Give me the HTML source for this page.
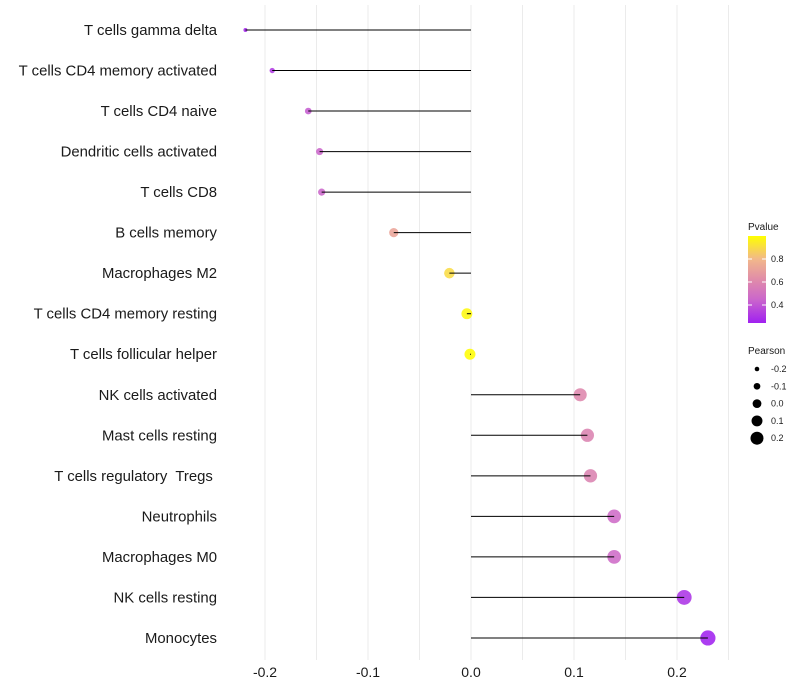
<!DOCTYPE html>
<html><head><meta charset="utf-8"><style>
body{margin:0;background:#fff;font-family:"Liberation Sans",sans-serif}
svg{display:block}
text{white-space:pre}
</style></head><body>
<svg id="chart" width="800" height="700"></svg>
<script>
const categories=["T cells gamma delta","T cells CD4 memory activated","T cells CD4 naive","Dendritic cells activated","T cells CD8","B cells memory","Macrophages M2","T cells CD4 memory resting","T cells follicular helper","NK cells activated","Mast cells resting","T cells regulatory  Tregs ","Neutrophils","Macrophages M0","NK cells resting","Monocytes"];
const pearson=[-0.219,-0.193,-0.158,-0.147,-0.145,-0.075,-0.021,-0.004,-0.001,0.106,0.113,0.116,0.139,0.139,0.207,0.230];
const pvalues=[0.26,0.32,0.42,0.45,0.45,0.72,0.9,0.98,0.995,0.6,0.58,0.58,0.47,0.47,0.3,0.25];
const xTicks=[-0.2,-0.1,0,0.1,0.2];
const xGrid=[-0.2,-0.15,-0.1,-0.05,0,0.05,0.1,0.15,0.2,0.25];
const pTicks=[0.4,0.6,0.8];
const sizeTicks=[-0.2,-0.1,0,0.1,0.2];

const svg=document.getElementById('chart');
const NS='http://www.w3.org/2000/svg';
function mk(t,a,p){const e=document.createElementNS(NS,t);for(const k in a)e.setAttribute(k,a[k]);(p||svg).appendChild(e);return e;}
const x=v=>471+v*1030;
const y=i=>30+i*40.53;
const stops=[[0.243,[160,32,240]],[0.45,[203,103,203]],[0.6,[222,135,173]],[0.8,[242,184,138]],[1.0,[255,255,0]]];
function col(p){p=Math.max(0.243,Math.min(1,p));for(let i=0;i<stops.length-1;i++){const[a,ca]=stops[i],[b,cb]=stops[i+1];if(p<=b){const t=(p-a)/(b-a);return 'rgb('+ca.map((c,j)=>Math.round(c+(cb[j]-c)*t)).join(',')+')';}}return 'rgb(255,255,0)';}
const rad=v=>Math.sqrt(Math.max(1,6.25+(v+0.2)/0.4*48));

const grid=mk('g',{});
xGrid.forEach(g=>{mk('line',{x1:x(g),x2:x(g),y1:5,y2:660,stroke:'#ebebeb','stroke-width':1},grid);});

categories.forEach((c,i)=>{
  const t=mk('text',{x:217,y:y(i)+5,'text-anchor':'end','font-size':14.9,fill:'#1a1a1a'});t.textContent=c;
  
  const pt=mk('circle',{cx:x(pearson[i]),cy:y(i),r:rad(pearson[i]),fill:col(pvalues[i]),'fill-opacity':0.88});
  
  const ln=mk('line',{x1:x(0),x2:x(pearson[i]),y1:y(i),y2:y(i),stroke:'#000','stroke-width':1});
  
});
xTicks.forEach(v=>{const t=mk('text',{x:x(v),y:677,'text-anchor':'middle','font-size':14,fill:'#1a1a1a'});t.textContent=v.toFixed(1);
  });

const lg=mk('g',{});
const tt=mk('text',{x:748,y:230,'font-size':10,fill:'#1a1a1a'},lg);tt.textContent='Pvalue';
const defs=mk('defs',{});const gr=mk('linearGradient',{id:'pg',x1:0,y1:1,x2:0,y2:0},defs);
stops.forEach(s=>mk('stop',{offset:((s[0]-0.243)/(1-0.243)),'stop-color':'rgb('+s[1].join(',')+')'},gr));
mk('rect',{x:748,y:236,width:18,height:87,fill:'url(#pg)'},lg);
const py=p=>259+(0.8-p)/0.2*23;
pTicks.forEach(p=>{mk('line',{x1:748,x2:752,y1:py(p),y2:py(p),stroke:'#fff'},lg);mk('line',{x1:762,x2:766,y1:py(p),y2:py(p),stroke:'#fff'},lg);
  const t=mk('text',{x:771,y:py(p)+3,'font-size':9,fill:'#1a1a1a'},lg);t.textContent=p.toFixed(1);});
const sg=mk('g',{});
const st=mk('text',{x:748,y:354,'font-size':10,fill:'#1a1a1a'},sg);st.textContent='Pearson';
sizeTicks.forEach((v,i)=>{const cy=369+i*17.3;mk('circle',{cx:757,cy:cy,r:2.3+(v+0.2)/0.4*4.2,fill:'#000'},sg);
  const t=mk('text',{x:771,y:cy+3,'font-size':9,fill:'#1a1a1a'},sg);t.textContent=v.toFixed(1);});
</script>
</body></html>
